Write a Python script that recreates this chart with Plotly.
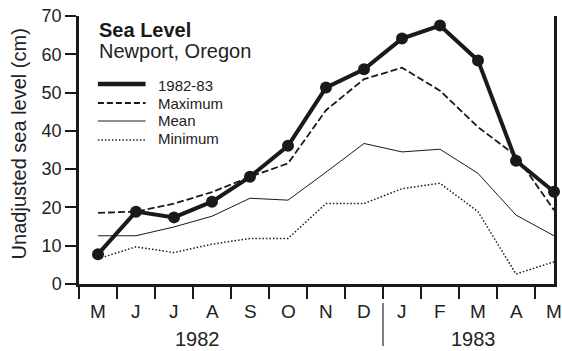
import plotly.graph_objects as go

months = ["M", "J", "J", "A", "S", "O", "N", "D", "J", "F", "M", "A", "M"]
years = ["1982", "1983"]
y_ticks = [0, 10, 20, 30, 40, 50, 60, 70]

sea_1982_83 = [7.8, 18.9, 17.4, 21.5, 28.0, 36.1, 51.3, 56.1, 64.1, 67.5, 58.4, 32.2, 24.1]
maximum = [18.6, 18.9, 21.0, 24.0, 28.0, 31.5, 45.4, 53.5, 56.5, 50.5, 41.0, 33.5, 19.3]
mean = [12.6, 12.6, 14.9, 17.7, 22.4, 21.9, 29.2, 36.7, 34.5, 35.2, 28.9, 18.0, 12.6]
minimum = [6.6, 9.7, 8.2, 10.4, 11.9, 11.9, 21.0, 21.0, 24.9, 26.3, 18.9, 2.6, 5.8]

legend_labels = ["1982-83", "Maximum", "Mean", "Minimum"]

x = list(range(len(months)))
INK = "#1a1a1a"
TXT = "#222222"
FONT = "Liberation Sans, Arial, Helvetica, sans-serif"

W, H = 562, 351
ML, MR, MT, MB = 79, 5, 16, 67
PW = W - ML - MR
PH = H - MT - MB

def px_x(p):
    return (p - ML) / PW

def px_y(p):
    return 1 - (p - MT) / PH

fig = go.Figure()
fig.add_trace(go.Scatter(x=x, y=minimum, mode="lines",
                         line=dict(color=INK, width=1.5, dash="1.5px,2px"),
                         cliponaxis=False))
fig.add_trace(go.Scatter(x=x, y=mean, mode="lines",
                         line=dict(color=INK, width=1)))
fig.add_trace(go.Scatter(x=x, y=maximum, mode="lines",
                         line=dict(color=INK, width=1.8, dash="7px,3px")))
fig.add_trace(go.Scatter(x=x, y=sea_1982_83, mode="lines+markers",
                         line=dict(color=INK, width=4),
                         marker=dict(color=INK, size=12),
                         cliponaxis=False))

annotations = []
for i, m in enumerate(months):
    annotations.append(dict(x=i, xref="x", y=px_y(311), yref="paper", text=m,
                            showarrow=False, xanchor="center", yanchor="middle",
                            font=dict(size=19, color=TXT, family=FONT)))
annotations.append(dict(x=2.63, xref="x", y=px_y(339), yref="paper", text=years[0],
                        showarrow=False, xanchor="center", yanchor="middle",
                        font=dict(size=20, color=TXT, family=FONT)))
annotations.append(dict(x=9.87, xref="x", y=px_y(339), yref="paper", text=years[1],
                        showarrow=False, xanchor="center", yanchor="middle",
                        font=dict(size=20, color=TXT, family=FONT)))
annotations.append(dict(x=px_x(19), xref="paper", y=px_y(144), yref="paper",
                        text="Unadjusted sea level (cm)", textangle=-90,
                        showarrow=False, xanchor="center", yanchor="middle",
                        font=dict(size=20, color=TXT, family=FONT)))
annotations.append(dict(x=px_x(97), xref="paper", y=px_y(30), yref="paper",
                        text="<b>Sea Level</b>", showarrow=False,
                        xanchor="left", yanchor="middle",
                        font=dict(size=20, color=INK, family=FONT)))
annotations.append(dict(x=px_x(97), xref="paper", y=px_y(51), yref="paper",
                        text="Newport, Oregon", showarrow=False,
                        xanchor="left", yanchor="middle",
                        font=dict(size=20, color=TXT, family=FONT)))

leg_y = [85, 103, 120, 138]
leg_line_y = [84, 103, 121, 140]
leg_styles = [dict(width=4.5, dash="solid"), dict(width=1.8, dash="6px,3px"),
              dict(width=1, dash="solid"), dict(width=1.5, dash="1.5px,2px")]
shapes = []
for lab, ty, ly, st in zip(legend_labels, leg_y, leg_line_y, leg_styles):
    annotations.append(dict(x=px_x(156), xref="paper", y=px_y(ty), yref="paper",
                            text=lab, showarrow=False, xanchor="left", yanchor="middle",
                            font=dict(size=15, color=TXT, family=FONT)))
    shapes.append(dict(type="line", xref="paper", yref="paper",
                       x0=px_x(98), x1=px_x(146), y0=px_y(ly), y1=px_y(ly),
                       line=dict(color=INK, width=st["width"], dash=st["dash"])))

# year separator
shapes.append(dict(type="line", xref="x", yref="paper", x0=7.5, x1=7.5,
                   y0=px_y(303), y1=px_y(346), line=dict(color="#555555", width=1.5)))

fig.update_layout(
    width=W, height=H,
    margin=dict(l=ML, r=MR, t=MT, b=MB, pad=0),
    paper_bgcolor="white", plot_bgcolor="white",
    showlegend=False,
    font=dict(family=FONT, color=TXT),
    annotations=annotations,
    shapes=shapes,
    xaxis=dict(range=[-0.5, 12], showgrid=False, zeroline=False,
               showline=True, linecolor=INK, linewidth=2.5,
               tickvals=[i + 0.5 for i in range(-1, 12)],
               ticktext=["" for _ in range(13)],
               ticks="outside", ticklen=12, tickwidth=1.5, tickcolor=INK),
    yaxis=dict(range=[0, 70], showgrid=False, zeroline=False,
               showline=True, linecolor=INK, linewidth=2.5, mirror=True,
               tickvals=y_ticks, ticks="outside", ticklen=11, tickwidth=1.5,
               tickcolor=INK, tickfont=dict(size=18, color=TXT, family=FONT)),
)

fig.write_html("out.html")
